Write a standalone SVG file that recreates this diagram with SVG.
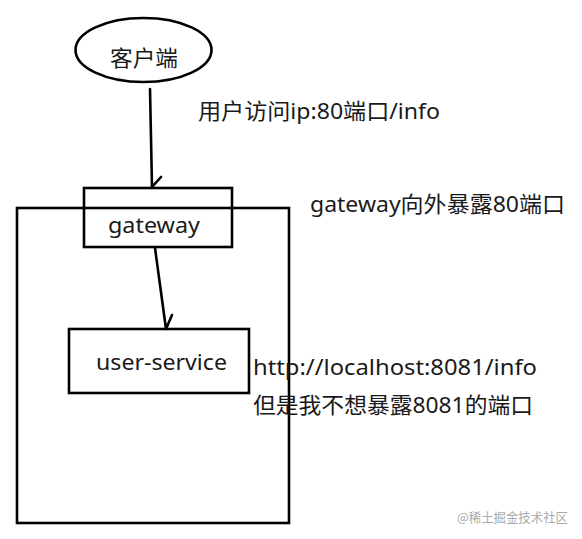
<svg xmlns="http://www.w3.org/2000/svg" width="582" height="539" viewBox="0 0 582 539">
<style>
.shape{fill:none;stroke:#000;stroke-width:2.6}
.edge{fill:none;stroke:#000;stroke-width:2.6;stroke-linecap:round}
.t{font-family:"Noto Sans","Noto Sans CJK SC",sans-serif;font-size:22px;fill:#1a1a1a}
.wm{font-family:"Noto Sans CJK SC",sans-serif;font-size:13px;fill:#aaa}
</style>
<rect width="582" height="539" fill="#fff"/>
<g id="client">
<ellipse class="shape" cx="143.5" cy="50" rx="68" ry="32" stroke-width="3"/>
<text class="t" x="110" y="66" textLength="68" lengthAdjust="spacingAndGlyphs">客户端</text>
</g>
<g id="outer-box">
<rect class="shape" x="17" y="208" width="272" height="315" stroke-width="3"/>
</g>
<g id="gateway">
<rect class="shape" x="84" y="188" width="148" height="59"/>
<text class="t" x="108" y="233" textLength="92" lengthAdjust="spacingAndGlyphs">gateway</text>
</g>
<g id="user-service">
<rect class="shape" x="69" y="329" width="180" height="64"/>
<text class="t" x="96" y="370" textLength="131" lengthAdjust="spacingAndGlyphs">user-service</text>
</g>
<g id="connectors">
<path class="edge" d="M150 89 L152 187 M152 187 L161 177"/>
<path class="edge" d="M155 248 L166 329 M166 329 L172 315"/>
</g>
<g id="labels">
<text class="t" x="198" y="119" textLength="242" lengthAdjust="spacingAndGlyphs">用户访问ip:80端口/info</text>
<text class="t" x="310" y="212" textLength="255" lengthAdjust="spacingAndGlyphs">gateway向外暴露80端口</text>
<text class="t" x="253" y="375" textLength="284" lengthAdjust="spacingAndGlyphs">http://localhost:8081/info</text>
<text class="t" x="253" y="413" textLength="280" lengthAdjust="spacingAndGlyphs">但是我不想暴露8081的端口</text>
<text class="wm" x="457" y="522" textLength="111" lengthAdjust="spacingAndGlyphs">@稀土掘金技术社区</text>
</g>
</svg>
